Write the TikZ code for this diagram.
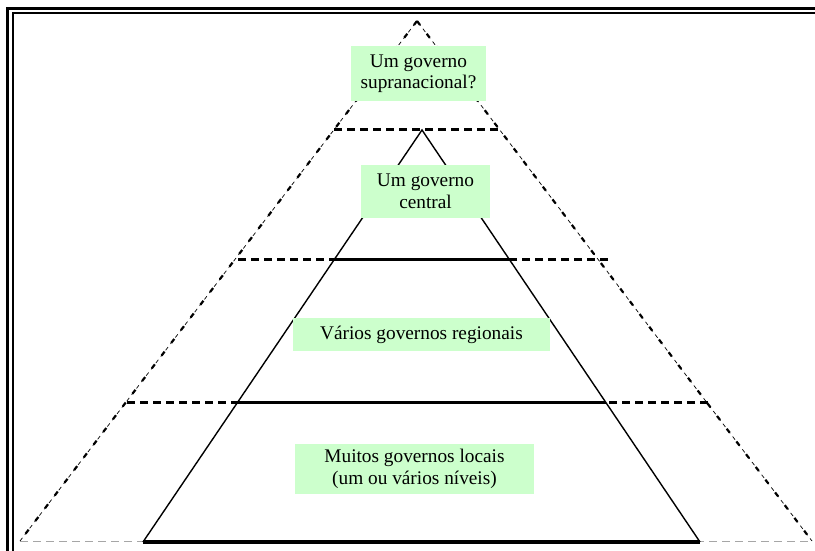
\documentclass[tikz,border=0pt]{standalone}
\usepackage{fontspec}
\setmainfont{Liberation Serif}
\begin{document}
\begin{tikzpicture}[x=1pt,y=-1pt,
  labelbox/.style={fill=boxgreen, inner sep=0pt, align=center, font=\fontsize{19.3}{21.5}\selectfont, text=black},
  thickdash/.style={line width=3pt, dash pattern=on 8pt off 5pt},
  levelline/.style={line width=3pt},
  sideline/.style={line width=1.4pt},
  outerthin/.style={line width=0.7pt, dash pattern=on 4pt off 4pt},
  outerthick/.style={line width=2.2pt, dash pattern=on 5pt off 11pt},
  baseghost/.style={line width=1pt, draw=black!35, dash pattern=on 8pt off 5pt}
]
\definecolor{boxgreen}{HTML}{CCFFCC}
\useasboundingbox (0,0) rectangle (815,551);
\fill[white] (0,0) rectangle (815,551);
% frame
\draw[line width=3.2pt] (7.8,551) -- (7.8,8.6) -- (815,8.6);
\draw[line width=1.8pt] (12.7,551) -- (12.7,13) -- (815,13);
% coordinates
\coordinate (oa) at (417,21);
\coordinate (ol) at (20,541);
\coordinate (or) at (812,541);
\coordinate (ia) at (422,130);
\coordinate (il) at (143,542);
\coordinate (ir) at (700,542);
% outer base ghost line
\draw[baseghost] (ol) -- (or);
% outer dashed triangle sides
\draw[outerthin] (ol) -- (oa) -- (or);
\draw[outerthick] (oa) -- (ol);
\draw[outerthick] (oa) -- (or);
% level lines
\coordinate (l1l) at (334,130);
\coordinate (l1r) at (500,130);
\draw[thickdash] (l1l) -- (l1r);
\coordinate (l2l) at (238,259);
\coordinate (l2r) at (608,259);
\coordinate (l2a) at (334.6,259);
\coordinate (l2b) at (509,259);
\draw[thickdash] (l2l) -- (l2a);
\draw[thickdash] (l2r) -- (l2b);
\draw[levelline] (l2a) -- (l2b);
\coordinate (l3l) at (127,402);
\coordinate (l3r) at (708,402);
\coordinate (l3a) at (238,402);
\coordinate (l3b) at (606,402);
\draw[thickdash] (l3l) -- (l3a);
\draw[thickdash] (l3r) -- (l3b);
\draw[levelline] (l3a) -- (l3b);
% inner triangle
\draw[sideline] (il) -- (ia) -- (ir);
\draw[line width=4pt] (il) -- (ir);
% labels
\node[labelbox, minimum width=135pt, minimum height=55pt] (supra) at (418.5,73.5) {Um governo\\supranacional?};
\node[labelbox, minimum width=129pt, minimum height=53pt] (central) at (425.5,191.5) {Um governo\\central};
\node[labelbox, minimum width=257pt, minimum height=33pt] (regional) at (421.5,334.5) {Vários governos regionais};
\node[labelbox, minimum width=239pt, minimum height=50pt] (local) at (414.5,469) {Muitos governos locais\\(um ou vários níveis)};
\end{tikzpicture}
\end{document}
